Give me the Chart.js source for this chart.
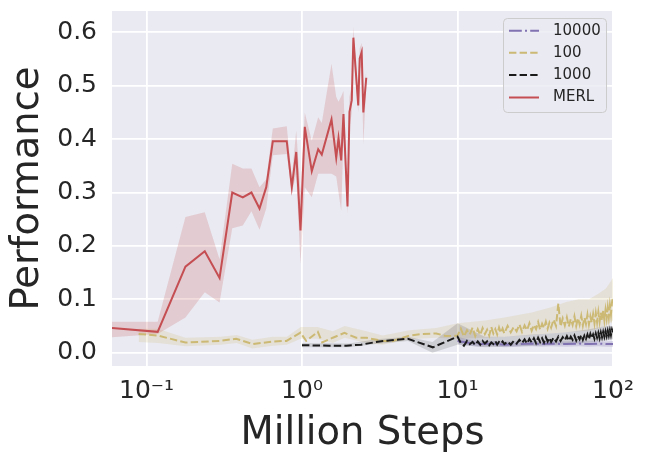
<!DOCTYPE html>
<html lang="en">
<head>
<meta charset="UTF-8">
<title>Performance vs Million Steps</title>
<script src="https://cdn.jsdelivr.net/npm/chart.js@4"></script>
<style>
  html, body { margin: 0; padding: 0; background: #fff; }
  #wrap { width: 648px; height: 464px; }
</style>
</head>
<body>
<div id="wrap"><canvas id="myChart" width="648" height="464"></canvas></div>
<script>
// values
const seriesNames = ["10000", "100", "1000", "MERL"];

const xTicks = [0.1, 1, 10, 100];
const xTickLabels = ["10\u207B\u00B9", "10\u2070", "10\u00B9", "10\u00B2"];
const yTicks = [0, 0.1, 0.2, 0.3, 0.4, 0.5, 0.6];

// MERL
const merlX  = [0.06, 0.118, 0.178, 0.237, 0.295, 0.356, 0.416, 0.473, 0.533, 0.589, 0.649, 0.798, 0.860, 0.918, 0.978, 1.042, 1.156, 1.271, 1.34, 1.548, 1.66, 1.717, 1.787, 1.848, 1.962, 2.02, 2.09, 2.14, 2.30, 2.35, 2.42, 2.48, 2.59];
const merlY  = [0.046, 0.039, 0.161, 0.19, 0.14, 0.30, 0.291, 0.30, 0.27, 0.31, 0.396, 0.396, 0.31, 0.376, 0.229, 0.423, 0.34, 0.381, 0.371, 0.437, 0.365, 0.402, 0.36, 0.447, 0.274, 0.451, 0.473, 0.59, 0.463, 0.551, 0.563, 0.45, 0.515];
const merlLo = [0.029, 0.035, 0.066, 0.113, 0.094, 0.233, 0.238, 0.265, 0.23, 0.27, 0.37, 0.372, 0.30, 0.335, 0.166, 0.31, 0.291, 0.335, 0.335, 0.335, 0.33, 0.30, 0.266, 0.40, 0.26, 0.42, 0.45, 0.56, 0.45, 0.53, 0.54, 0.39, 0.50];
const merlHi = [0.058, 0.058, 0.254, 0.263, 0.175, 0.354, 0.345, 0.345, 0.31, 0.325, 0.42, 0.424, 0.33, 0.416, 0.30, 0.45, 0.397, 0.441, 0.43, 0.541, 0.479, 0.47, 0.48, 0.49, 0.28, 0.48, 0.50, 0.61, 0.48, 0.57, 0.58, 0.47, 0.53];

// steps past 10M, shared by the 100 and 1000 runs
const xDense = [10, 10.5, 11, 11.5, 12, 12.5, 13, 13.5, 14, 14.5, 15, 15.5, 16, 16.5, 17, 17.5, 18, 18.5, 19, 19.5, 20,
  21, 22, 23, 24, 25, 26, 27, 28, 29, 30, 31, 32, 33, 34, 35, 36, 37, 38, 39, 40,
  41.5, 43, 44.5, 46, 47.5, 49, 50.5, 52, 53.5, 55, 56.5, 58, 59.5, 61, 62.5, 64, 65.5, 67, 68.5, 70,
  71.5, 73, 74.5, 76, 77.5, 79, 80.5, 82, 83.5, 85, 86.5, 88, 89.5, 91, 92.5, 94, 95.5, 97, 98.5, 100];

// 100
const x100Early = [0.089, 0.118, 0.178, 0.295, 0.377, 0.483, 0.649, 0.795, 0.978, 1.064, 1.264, 1.349, 1.578, 1.876, 2.23, 2.59, 3.29, 3.84, 4.91, 5.98, 7.3, 8.46];
const y100 = [0.035, 0.032, 0.019, 0.022, 0.026, 0.016, 0.021, 0.022, 0.0375, 0.022, 0.039, 0.019, 0.028, 0.037, 0.028, 0.028, 0.022, 0.022, 0.032, 0.035, 0.036, 0.031,
  0.032, 0.045, 0.030, 0.042, 0.034, 0.047, 0.031, 0.044, 0.033, 0.046, 0.035, 0.043, 0.032, 0.048, 0.036, 0.044, 0.034, 0.047, 0.037, 0.045, 0.036,
  0.050, 0.038, 0.048, 0.040, 0.053, 0.039, 0.051, 0.042, 0.055, 0.041, 0.052, 0.044, 0.057, 0.043, 0.054, 0.046, 0.058, 0.045, 0.056, 0.047,
  0.062, 0.050, 0.092, 0.049, 0.064, 0.051, 0.066, 0.049, 0.063, 0.052, 0.068, 0.050, 0.065, 0.053, 0.069, 0.051, 0.066, 0.054, 0.071, 0.053,
  0.068, 0.056, 0.072, 0.055, 0.074, 0.057, 0.076, 0.058, 0.075, 0.060, 0.079, 0.061, 0.080, 0.064, 0.084, 0.066, 0.088, 0.072, 0.094, 0.104];
const band100X  = [0.089, 0.118, 0.178, 0.3, 0.38, 0.48, 0.65, 0.8, 0.98, 1.26, 1.58, 1.88, 2.6, 3.3, 4.9, 7.3, 10, 15, 20, 30, 40, 50, 60, 70, 80, 90, 100];
const band100Lo = [0.02, 0.018, 0.012, 0.015, 0.018, 0.008, 0.013, 0.015, 0.026, 0.026, 0.018, 0.028, 0.018, 0.015, 0.025, 0.028, 0.026, 0.028, 0.03, 0.033, 0.036, 0.038, 0.04, 0.041, 0.046, 0.05, 0.06];
const band100Hi = [0.045, 0.045, 0.028, 0.03, 0.033, 0.024, 0.03, 0.03, 0.048, 0.048, 0.04, 0.05, 0.04, 0.032, 0.042, 0.046, 0.055, 0.06, 0.066, 0.075, 0.085, 0.095, 0.10, 0.10, 0.11, 0.12, 0.14];

// 1000
const x1000Early = [1.0, 1.5, 1.93, 2.4, 3.15, 4.79, 6.94];
const y1000 = [0.014, 0.013, 0.013, 0.015, 0.021, 0.026, 0.010,
  0.030, 0.018, 0.013, 0.022, 0.016, 0.020, 0.014, 0.021, 0.015, 0.022, 0.017, 0.021, 0.014, 0.019, 0.016, 0.022, 0.015, 0.020, 0.017, 0.021, 0.016,
  0.021, 0.015, 0.022, 0.017, 0.024, 0.018, 0.025, 0.017, 0.026, 0.019, 0.027, 0.018, 0.028, 0.020, 0.027, 0.019, 0.029, 0.021, 0.028, 0.020,
  0.028, 0.021, 0.030, 0.022, 0.029, 0.023, 0.031, 0.022, 0.030, 0.024, 0.032, 0.023, 0.031, 0.025, 0.033, 0.024, 0.032, 0.026, 0.034, 0.025,
  0.035, 0.027, 0.034, 0.026, 0.036, 0.028, 0.037, 0.027, 0.038, 0.029, 0.039, 0.030, 0.040, 0.031, 0.041, 0.032, 0.042, 0.033, 0.043, 0.038];
const band1000X  = [1, 2, 3, 4.8, 6.9, 10, 15, 20, 30, 40, 50, 60, 70, 80, 90, 100];
const band1000Lo = [0.010, 0.010, 0.016, 0.022, 0.0, 0.015, 0.010, 0.011, 0.013, 0.014, 0.016, 0.017, 0.019, 0.021, 0.023, 0.025];
const band1000Hi = [0.018, 0.017, 0.025, 0.030, 0.020, 0.055, 0.030, 0.030, 0.034, 0.036, 0.038, 0.041, 0.044, 0.047, 0.050, 0.050];

// 10000
const x10000  = [10, 12, 14, 17, 20, 25, 30, 35, 40, 50, 60, 70, 80, 90, 100];
const y10000  = [0.022, 0.018, 0.016, 0.017, 0.015, 0.016, 0.017, 0.016, 0.017, 0.016, 0.017, 0.016, 0.017, 0.016, 0.016];
const lo10000 = [0.016, 0.013, 0.011, 0.012, 0.010, 0.011, 0.012, 0.011, 0.012, 0.011, 0.012, 0.011, 0.012, 0.011, 0.011];
const hi10000 = [0.030, 0.024, 0.022, 0.022, 0.021, 0.021, 0.022, 0.021, 0.022, 0.021, 0.022, 0.021, 0.022, 0.021, 0.022];

const pts = (xs, ys) => xs.map((x, i) => ({ x: x, y: ys[i] }));

const lineSet = (label, xs, ys, color, dash) => ({
  label: label, data: pts(xs, ys), borderColor: color, backgroundColor: color,
  borderWidth: 2, borderDash: dash, pointRadius: 0, fill: false,
});
const bandSet = (xs, hi, lo, color) => [
  { data: pts(xs, hi), borderWidth: 0, borderColor: "rgba(0,0,0,0)", pointRadius: 0, fill: "+1", backgroundColor: color, band: true },
  { data: pts(xs, lo), borderWidth: 0, borderColor: "rgba(0,0,0,0)", pointRadius: 0, fill: false, band: true },
];

const lines = [
  lineSet("MERL", merlX, merlY, "#C44E52", []),
  lineSet("1000", x1000Early.concat(xDense), y1000, "#1a1a1a", [7.4, 3.2]),
  lineSet("100", x100Early.concat(xDense), y100, "#CCB974", [7.4, 3.2]),
  lineSet("10000", x10000, y10000, "#8172B2", [12.8, 3.2, 2, 3.2]),
];

const datasets = lines.concat(
  bandSet(merlX, merlHi, merlLo, "rgba(196,78,82,0.2)"),
  bandSet(band1000X, band1000Hi, band1000Lo, "rgba(0,0,0,0.12)"),
  bandSet(band100X, band100Hi, band100Lo, "rgba(204,185,116,0.2)"),
  bandSet(x10000, hi10000, lo10000, "rgba(129,114,178,0.25)")
);

const plotBg = {
  id: "plotBg",
  beforeDraw(chart) {
    const { ctx, chartArea: a } = chart;
    ctx.save();
    ctx.fillStyle = "#EAEAF2";
    ctx.fillRect(a.left, a.top, a.right - a.left, a.bottom - a.top);
    ctx.restore();
  },
};

// legend box in the upper right corner of the plot
const legendBox = {
  id: "legendBox",
  afterDatasetsDraw(chart) {
    const ctx = chart.ctx;
    const bx = 503.5, by = 18.5, bw = 103, bh = 94;
    ctx.save();
    ctx.beginPath();
    ctx.roundRect(bx, by, bw, bh, 4);
    ctx.fillStyle = "rgba(234,234,242,0.8)";
    ctx.fill();
    ctx.strokeStyle = "#cccccc";
    ctx.lineWidth = 1;
    ctx.stroke();
    const rows = [30.7, 52.7, 75, 97.5];
    seriesNames.forEach(function (name, i) {
      const ds = lines.find((d) => d.label === name);
      const y = rows[i];
      ctx.beginPath();
      ctx.setLineDash(ds.borderDash);
      ctx.strokeStyle = ds.borderColor;
      ctx.lineWidth = 2;
      ctx.moveTo(509, y);
      ctx.lineTo(539, y);
      ctx.stroke();
      ctx.setLineDash([]);
      ctx.fillStyle = "#262626";
      ctx.font = "15px 'DejaVu Sans'";
      ctx.textBaseline = "middle";
      ctx.textAlign = "left";
      ctx.fillText(name, 553, y);
    });
    ctx.restore();
  },
};

Chart.defaults.font.family = "'DejaVu Sans', sans-serif";
Chart.defaults.color = "#262626";

const config = {
  type: "line",
  data: { datasets: datasets },
  plugins: [plotBg, legendBox],
  options: {
    responsive: false,
    animation: false,
    layout: { padding: { left: 0, right: 35, top: 11, bottom: 0 } },
    elements: { line: { tension: 0 }, point: { radius: 0 } },
    plugins: {
      legend: { display: false },
      tooltip: { enabled: false },
      filler: { drawTime: "beforeDatasetsDraw" },
    },
    scales: {
      x: {
        type: "logarithmic",
        min: 0.06,
        max: 100,
        afterBuildTicks: (s) => { s.ticks = xTicks.map((v) => ({ value: v })); },
        afterFit: (s) => { s.height = 98; s.paddingLeft = 0; s.paddingRight = 0; },
        ticks: {
          font: { size: 25 }, color: "#262626", padding: 10,
          maxRotation: 0, autoSkip: false,
          callback: (v, i) => xTickLabels[i],
        },
        grid: { color: "#ffffff", lineWidth: 1.8, drawTicks: false },
        border: { display: false },
        title: {
          display: true, text: "Million Steps", color: "#262626",
          font: { size: 38.5, lineHeight: 1 }, padding: { top: 0, bottom: 11 },
        },
      },
      y: {
        min: -0.025,
        max: 0.64,
        afterBuildTicks: (s) => { s.ticks = yTicks.map((v) => ({ value: v })); },
        afterFit: (s) => { s.width = 112; s.paddingTop = 0; s.paddingBottom = 0; },
        ticks: {
          font: { size: 25 }, color: "#262626", padding: 15,
          callback: (v) => v.toFixed(1),
        },
        grid: { color: "#ffffff", lineWidth: 1.8, drawTicks: false },
        border: { display: false },
        title: {
          display: true, text: "Performance", color: "#262626",
          font: { size: 38.5, lineHeight: 1 }, padding: { top: 9, bottom: 0 },
        },
      },
    },
  },
};

const myChart = new Chart(document.getElementById("myChart"), config);
</script>
</body>
</html>
